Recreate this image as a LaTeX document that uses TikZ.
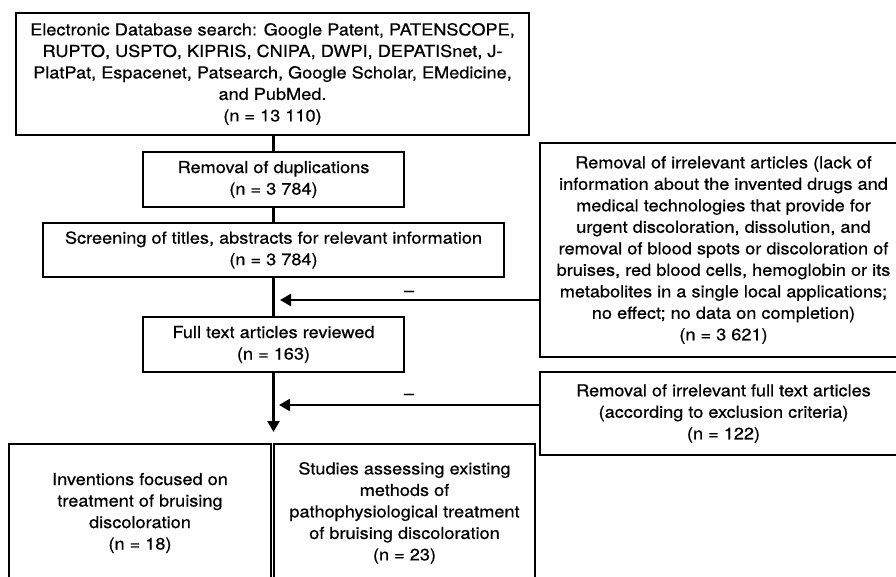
\documentclass[tikz,border=0pt]{standalone}
\usepackage{fontspec}
\setmainfont[FakeStretch=1.1,FakeBold=0.6]{TeX Gyre Heros}
\usetikzlibrary{arrows.meta}
\tikzset{
  box/.style={draw=black, line width=2.7pt, fill=white, inner sep=0pt, align=center,
              font=\fontsize{16.5}{21.5}\selectfont},
  conn/.style={draw=black, line width=2.5pt},
  arr/.style={conn, -{Triangle[length=11pt,width=12pt]}},
  minus/.style={inner sep=0pt, anchor=base, font=\fontsize{16.5}{21.5}\selectfont}
}
\begin{document}
\begin{tikzpicture}[x=1pt,y=-1pt]
\path[use as bounding box] (0,0) rectangle (896,577);
\fill[white] (0,0) rectangle (896,577);
\clip (0,0) rectangle (896,577);

\node[box, minimum width=513pt, minimum height=122pt] (b1) at (272.5,74)
  {Electronic Database search: Google Patent, PATENSCOPE,\\
   RUPTO, USPTO, KIPRIS, CNIPA, DWPI, DEPATISnet, J-\\
   PlatPat, Espacenet, Patsearch, Google Scholar, EMedicine,\\
   and PubMed.\\
   (n = 13 110)};

\node[box, minimum width=261pt, minimum height=55pt] (b2) at (273.5,179.5)
  {Removal of duplications\\(n = 3 784)};

\node[box, minimum width=461pt, minimum height=54pt] (b3) at (273.5,250)
  {Screening of titles, abstracts for relevant information\\(n = 3 784)};

\node[box, minimum width=261pt, minimum height=55pt] (b4) at (273.5,344.5)
  {Full text articles reviewed\\(n = 163)};

\node[box, minimum width=367pt, minimum height=214pt] (r1) at (723.5,250)
  {Removal of irrelevant articles (lack of\\
   information about the invented drugs and\\
   medical technologies that provide for\\
   urgent discoloration, dissolution, and\\
   removal of blood spots or discoloration of\\
   bruises, red blood cells, hemoglobin or its\\
   metabolites in a single local applications;\\
   no effect; no data on completion)\\
   (n = 3 621)};

\node[box, minimum width=367pt, minimum height=83pt] (r2) at (723.5,413.5)
  {Removal of irrelevant full text articles\\
   (according to exclusion criteria)\\
   (n = 122)};

\node[box, minimum width=262pt, minimum height=138pt] (bl) at (140,513)
  {Inventions focused on\\treatment of bruising\\discoloration\\(n = 18)};

\node[box, minimum width=261pt, minimum height=138pt] (br) at (404.5,513)
  {Studies assessing existing\\methods of\\pathophysiological treatment\\of bruising discoloration\\(n = 23)};

\coordinate (a1) at (280,300);
\coordinate (a2) at (279,405);
\coordinate (d) at (273.5,432);

\draw[conn] (b2.north |- b1.south) -- (b2.north);
\draw[conn] (b2.south) -- (b3.north);
\draw[conn] (b3.south) -- (b4.north);
\draw[arr] (b4.south) -- (d);
\draw[arr] (r1.west |- a1) -- (a1);
\draw[arr] (r2.west |- a2) -- (a2);

\node[minus] (m1) at (409,296) {–};
\node[minus] (m2) at (409,399) {–};
\end{tikzpicture}
\end{document}
